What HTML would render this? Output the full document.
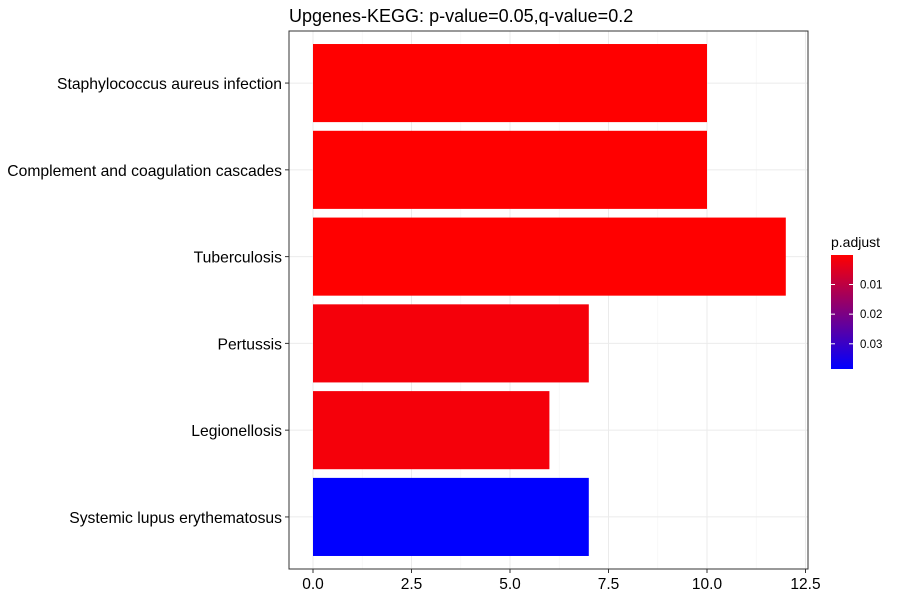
<!DOCTYPE html>
<html><head><meta charset="utf-8"><style>
body{margin:0;background:#fff;}
svg{font-family:"Liberation Sans",sans-serif;}
</style></head><body>
<svg id="chart" width="900" height="600"></svg>
<script>
const categories=["Staphylococcus aureus infection","Complement and coagulation cascades","Tuberculosis","Pertussis","Legionellosis","Systemic lupus erythematosus"];
const counts=[10,10,12,7,6,7];
const padj=[0.00005,0.00005,0.00005,0.0016,0.0016,0.0385];
const xTicks=[0,2.5,5,7.5,10,12.5];
const xTickLabels=["0.0","2.5","5.0","7.5","10.0","12.5"];
const legendTicks=[0.01,0.02,0.03];
const legendTickLabels=["0.01","0.02","0.03"];
const pMin=0.00005,pMax=0.0385;

const NS="http://www.w3.org/2000/svg";
const svg=document.getElementById('chart');
function mk(t,a,p){const e=document.createElementNS(NS,t);for(const k in a)e.setAttribute(k,a[k]);(p||svg).appendChild(e);return e;}
const L=289,R=808,T=31,B=569;
const xs=v=>313+v*39.4;
const step=(B-T)/(categories.length+0.2);
const yc=i=>T+step*(i+0.6);
function col(p){const f=(p-pMin)/(pMax-pMin);const r=Math.round(255*(1-f)),b=Math.round(255*f);return `rgb(${r},0,${b})`;}

const panel=mk('rect',{x:L,y:T,width:R-L,height:B-T,fill:'#fff',stroke:'none'});


for(let i=0;i<xTicks.length;i++){
  const g=mk('line',{x1:xs(xTicks[i]),x2:xs(xTicks[i]),y1:T,y2:B,stroke:'#ebebeb','stroke-width':1});
  
  
  if(i<xTicks.length-1){const m=(xTicks[i]+xTicks[i+1])/2;
    const g2=mk('line',{x1:xs(m),x2:xs(m),y1:T,y2:B,stroke:'#f4f4f4','stroke-width':0.6});
    
    }
}
categories.forEach((c,i)=>{
  const g=mk('line',{x1:L,x2:R,y1:yc(i),y2:yc(i),stroke:'#ebebeb','stroke-width':1});
  
  
});
categories.forEach((c,i)=>{
  const h=step*0.9;
  const r=mk('rect',{x:xs(0),y:yc(i)-h/2,width:xs(counts[i])-xs(0),height:h,fill:col(padj[i])});
  
  
  const tk=mk('line',{x1:L-4,x2:L,y1:yc(i),y2:yc(i),stroke:'#333','stroke-width':1});
  
  
  const t=mk('text',{x:L-7,y:yc(i)+6,'text-anchor':'end','font-size':15.7,fill:'#000'});
  t.textContent=c;
  
  
});
const border=mk('rect',{x:L,y:T,width:R-L,height:B-T,fill:'none',stroke:'#333','stroke-width':1});


xTicks.forEach((v,i)=>{
  const tk=mk('line',{x1:xs(v),x2:xs(v),y1:B,y2:B+4,stroke:'#333','stroke-width':1});
  
  
  const t=mk('text',{x:xs(v),y:B+20,'text-anchor':'middle','font-size':15.5,fill:'#000'});
  t.textContent=xTickLabels[i];
  
  
});
const title=mk('text',{x:L,y:22,'font-size':18,fill:'#000'});
title.textContent="Upgenes-KEGG: p-value=0.05,q-value=0.2";


const defs=mk('defs',{});
const lg=mk('linearGradient',{id:'lg',x1:0,y1:0,x2:0,y2:1},defs);
mk('stop',{offset:'0','stop-color':'#ff0000'},lg);
mk('stop',{offset:'1','stop-color':'#0000ff'},lg);
const lt=mk('text',{x:831,y:247,'font-size':14,fill:'#000'});
lt.textContent="p.adjust";


const lT=255,lB=369;
const ly=p=>lT+(p-pMin)/(pMax-pMin)*(lB-lT);
const cb=mk('rect',{x:831,y:lT,width:22,height:lB-lT,fill:'url(#lg)'});


legendTicks.forEach((v,i)=>{
  const y=ly(v);
  mk('line',{x1:831,x2:835,y1:y,y2:y,stroke:'#fff','stroke-width':1});
  mk('line',{x1:849,x2:853,y1:y,y2:y,stroke:'#fff','stroke-width':1});
  const t=mk('text',{x:860,y:y+4,'font-size':11.5,fill:'#000'});
  t.textContent=legendTickLabels[i];
  
  
});
</script>
</body></html>
